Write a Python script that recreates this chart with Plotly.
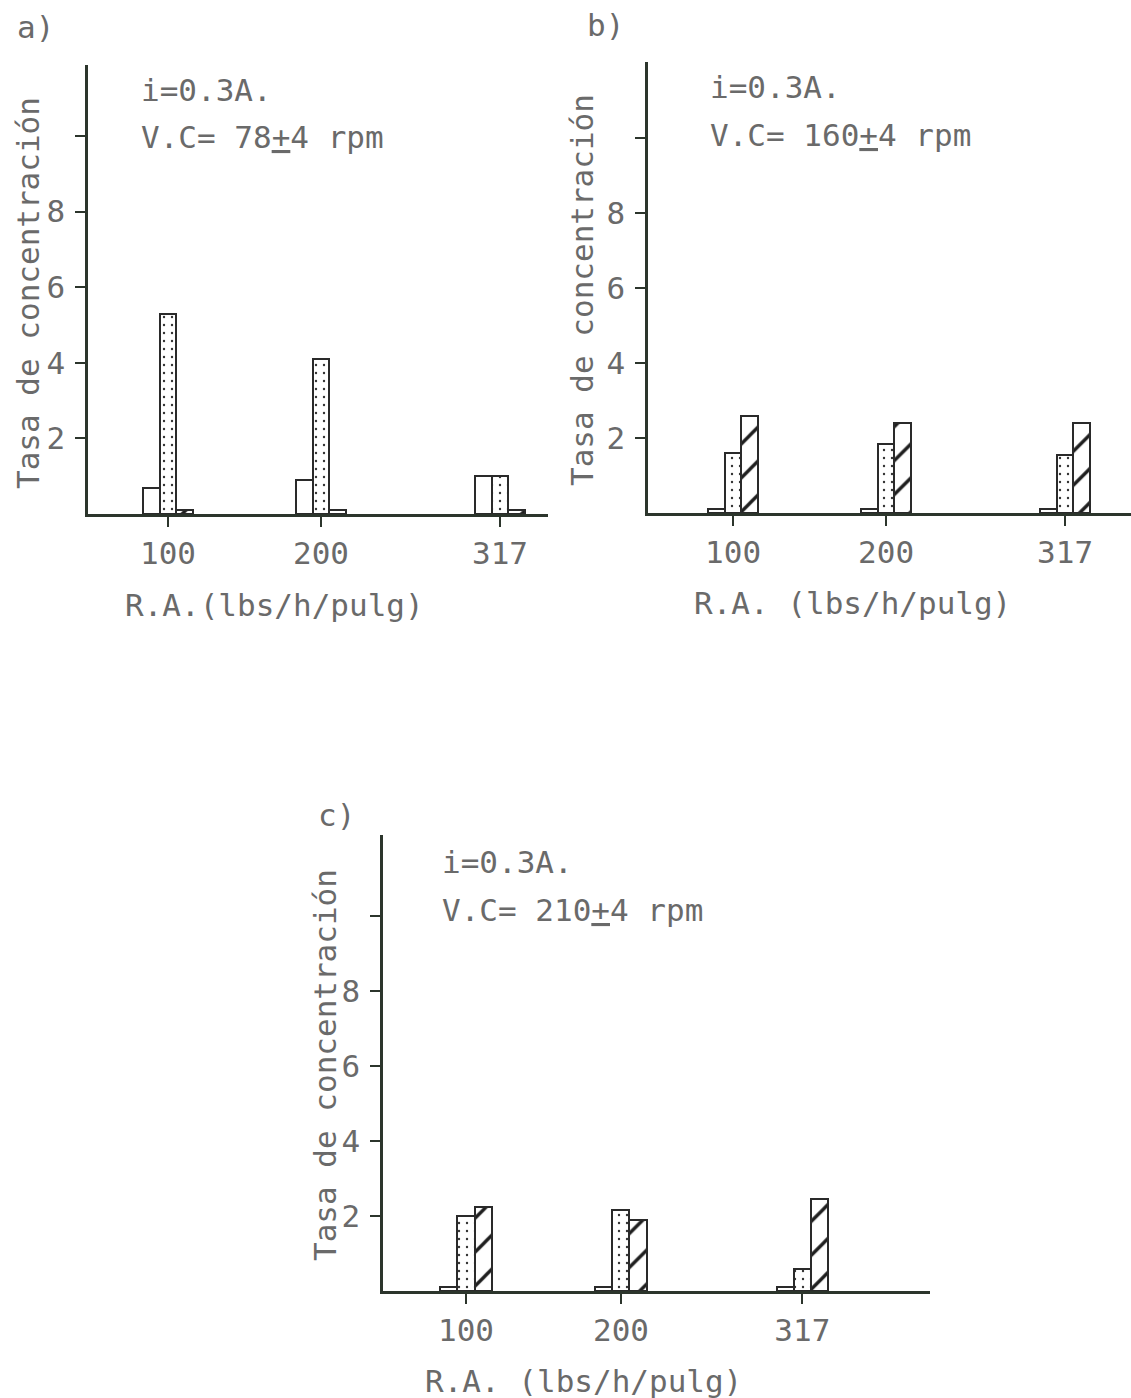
import plotly.graph_objects as go

# ---------------- data ----------------
ra_values = [100, 200, 317]
ra_ticktext = ["100", "200", "317"]
y_tickvals = [2, 4, 6, 8, 10]
y_ticktext = ["2", "4", "6", "8", ""]

# panel a) V.C = 78+4 rpm
a_blanco = [0.7, 0.9, 1.0]
a_punteado = [5.3, 4.1, 1.0]
a_rayado = [0.1, 0.1, 0.1]

# panel b) V.C = 160+4 rpm
b_blanco = [0.1, 0.1, 0.1]
b_punteado = [1.6, 1.85, 1.55]
b_rayado = [2.6, 2.4, 2.4]

# panel c) V.C = 210+4 rpm
c_blanco = [0.1, 0.1, 0.1]
c_punteado = [2.0, 2.15, 0.6]
c_rayado = [2.25, 1.9, 2.45]

panel_labels = ["a)", "b)", "c)"]
corriente = "i=0.3A."
velocidades = ["V.C= 78<u>+</u>4 rpm", "V.C= 160<u>+</u>4 rpm", "V.C= 210<u>+</u>4 rpm"]
x_titles = ["R.A.(lbs/h/pulg)", "R.A. (lbs/h/pulg)", "R.A. (lbs/h/pulg)"]
y_title = "Tasa de concentración"

# ---------------- styling ----------------
W, H = 1131, 1398
FONT = "DejaVu Sans Mono"
FS = 31
TXT = "#6a6a6a"
AX = "#2c352c"
EDGE = "#2a2a2a"
BAR_W = 11


def px(x):
    return x / W


def py(y):
    return 1 - y / H


fig = go.Figure()

panels = [
    dict(ax="", data=(a_blanco, a_punteado, a_rayado),
         dom_x=(88, 548), dom_y=(65, 514), xr=(47.7, 348.4), ppu=37.8,
         lab=(35, 27), info=(139, 90, 137), xt=(123, 605), yt=(28, 293)),
    dict(ax="2", data=(b_blanco, b_punteado, b_rayado),
         dom_x=(648, 1131), dom_y=(62, 513), xr=(44.4, 360.1), ppu=37.5,
         lab=(605, 25), info=(708, 87, 135), xt=(692, 603), yt=(582, 290)),
    dict(ax="3", data=(c_blanco, c_punteado, c_rayado),
         dom_x=(383, 930), dom_y=(835, 1291), xr=(46.45, 399.4), ppu=37.5,
         lab=(336, 815), info=(440, 862, 910), xt=(423, 1381), yt=(325, 1065)),
]

for i, p in enumerate(panels):
    xa = "x" + p["ax"]
    ya = "y" + p["ax"]
    blanco, punteado, rayado = p["data"]
    fig.add_trace(go.Bar(
        x=ra_values, y=blanco, width=BAR_W, offset=-1.5 * BAR_W,
        marker=dict(color="white", line=dict(color=EDGE, width=2)),
        xaxis=xa, yaxis=ya, showlegend=False, hoverinfo="skip"))
    fig.add_trace(go.Bar(
        x=ra_values, y=punteado, width=BAR_W, offset=-0.5 * BAR_W,
        marker=dict(color="white", line=dict(color=EDGE, width=2),
                    pattern=dict(shape=".", fgcolor="#333333", bgcolor="white",
                                 fgopacity=1, size=8, solidity=0.07)),
        xaxis=xa, yaxis=ya, showlegend=False, hoverinfo="skip"))
    fig.add_trace(go.Bar(
        x=ra_values, y=rayado, width=BAR_W, offset=0.5 * BAR_W,
        marker=dict(color="white", line=dict(color=EDGE, width=2),
                    pattern=dict(shape="/", fgcolor="#1e1e1e", bgcolor="white",
                                 fgopacity=1, size=24, solidity=0.14)),
        xaxis=xa, yaxis=ya, showlegend=False, hoverinfo="skip"))

    (x0, x1), (ytop, ybot) = p["dom_x"], p["dom_y"]
    yr_top = (ybot - ytop) / p["ppu"]
    xkey = "xaxis" + p["ax"]
    ykey = "yaxis" + p["ax"]
    fig.update_layout(**{
        xkey: dict(domain=[px(x0), px(x1)], anchor=ya, range=list(p["xr"]),
                   tickvals=ra_values, ticktext=ra_ticktext,
                   ticks="outside", ticklen=10, tickwidth=2, tickcolor=AX,
                   showline=True, linecolor=AX, linewidth=2.5,
                   showgrid=False, zeroline=False, ticklabelstandoff=0,
                   tickfont=dict(family=FONT, size=FS, color=TXT), fixedrange=True),
        ykey: dict(domain=[py(ybot), py(ytop)], anchor=xa, range=[0, yr_top],
                   tickvals=y_tickvals, ticktext=y_ticktext,
                   ticks="outside", ticklen=10, tickwidth=2, tickcolor=AX,
                   showline=True, linecolor=AX, linewidth=2.5,
                   showgrid=False, zeroline=False, ticklabelstandoff=4,
                   tickfont=dict(family=FONT, size=FS, color=TXT), fixedrange=True),
    })

    # panel letter
    fig.add_annotation(text=panel_labels[i], x=px(p["lab"][0]), y=py(p["lab"][1]),
                       xref="paper", yref="paper", xanchor="center", yanchor="middle",
                       showarrow=False, font=dict(family=FONT, size=FS, color=TXT))
    # conditions
    fig.add_annotation(text=corriente, x=px(p["info"][0]), y=py(p["info"][1]),
                       xref="paper", yref="paper", xanchor="left", yanchor="middle",
                       showarrow=False, font=dict(family=FONT, size=FS, color=TXT))
    fig.add_annotation(text=velocidades[i], x=px(p["info"][0]), y=py(p["info"][2]),
                       xref="paper", yref="paper", xanchor="left", yanchor="middle",
                       showarrow=False, font=dict(family=FONT, size=FS, color=TXT))
    # axis titles
    fig.add_annotation(text=x_titles[i], x=px(p["xt"][0]), y=py(p["xt"][1]),
                       xref="paper", yref="paper", xanchor="left", yanchor="middle",
                       showarrow=False, font=dict(family=FONT, size=FS, color=TXT))
    fig.add_annotation(text=y_title, x=px(p["yt"][0]), y=py(p["yt"][1]),
                       xref="paper", yref="paper", xanchor="center", yanchor="middle",
                       textangle=-90, showarrow=False,
                       font=dict(family=FONT, size=FS, color=TXT))

fig.update_layout(
    width=W, height=H,
    margin=dict(l=0, r=0, t=0, b=0),
    paper_bgcolor="white", plot_bgcolor="white",
    barmode="overlay", bargap=0,
    showlegend=False, hovermode=False,
)

fig.write_html("out.html", config={"displayModeBar": False},
               post_script="document.body.style.margin='0';document.body.style.overflow='hidden';")
